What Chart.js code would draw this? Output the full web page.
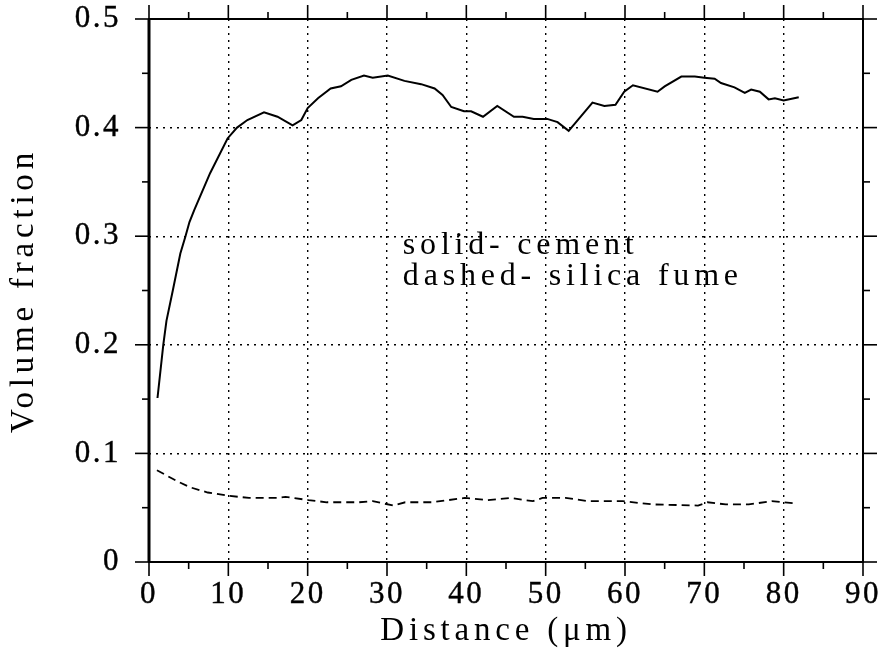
<!DOCTYPE html>
<html>
<head>
<meta charset="utf-8">
<script src="https://cdn.jsdelivr.net/npm/chart.js@4.4.1/dist/chart.umd.min.js"></script>
<style>
  html, body { margin: 0; padding: 0; background: #fff; }
  #wrap { width: 884px; height: 657px; }
</style>
</head>
<body>
<div id="wrap"><canvas id="c" width="884" height="657"></canvas></div>
<script>
// ---- data ----
const cementX = [1.07,1.8,2.2,3.0,3.95,4.6,5.1,5.7,7.7,9.9,11.1,12.4,14.5,16.2,18.1,19.2,20.0,21.3,22.9,24.2,25.5,27.1,28.2,30.1,32.2,34.3,36.0,37.0,38.1,39.7,40.6,42.1,43.9,46.0,47.1,48.5,50.2,51.5,52.9,55.9,57.4,58.8,59.9,61.0,64.1,65.0,67.1,68.8,70.0,71.3,72.1,73.8,75.1,75.9,77.0,78.1,78.9,80.0,81.9];
const cementY = [0.151,0.200,0.222,0.250,0.284,0.300,0.313,0.324,0.358,0.390,0.400,0.407,0.414,0.410,0.402,0.407,0.418,0.427,0.436,0.438,0.444,0.448,0.446,0.448,0.443,0.440,0.436,0.430,0.419,0.415,0.415,0.410,0.420,0.410,0.410,0.408,0.408,0.405,0.397,0.423,0.420,0.421,0.433,0.439,0.433,0.438,0.447,0.447,0.446,0.445,0.441,0.437,0.432,0.435,0.433,0.426,0.427,0.425,0.428];
const silicaX = [1.0,3.4,5.1,7.4,10.0,12.6,16.1,17.2,20.1,22.4,26.5,28.2,30.8,32.3,35.7,39.8,42.7,45.5,48.4,49.6,52.5,55.4,59.7,63.5,69.2,70.4,72.7,75.6,78.5,81.4];
const silicaY = [0.0845,0.075,0.069,0.064,0.061,0.059,0.059,0.060,0.057,0.055,0.055,0.056,0.052,0.055,0.055,0.059,0.057,0.059,0.056,0.059,0.059,0.056,0.056,0.053,0.052,0.055,0.053,0.053,0.056,0.054];
const xTickValues = [0,10,20,30,40,50,60,70,80,90];
const xTickLabels = ['0','10','20','30','40','50','60','70','80','90'];
const yTickValues = [0,0.1,0.2,0.3,0.4,0.5];
const yTickLabels = ['0','0.1','0.2','0.3','0.4','0.5'];
const noteLines = ['solid- cement', 'dashed- silica fume'];
const notePos = {x: 32.0, y: [0.284, 0.255]};
const xTitle = 'Distance (\u03bcm)';
const yTitle = 'Volume fraction';

const FONT = '"Liberation Serif", "DejaVu Serif", serif';
const TICK_SPACING = '2.5px';
const TITLE_SPACING = '4.8px';

function pts(xs, ys) { return xs.map((v, i) => ({x: v, y: ys[i]})); }

// letter spacing: tick labels use TICK_SPACING, titles use TITLE_SPACING
function withSpacing(scale) {
  if (scale._spacingWrapped) return;
  const origTitle = scale.drawTitle;
  scale.drawTitle = function () {
    const c = this.ctx, prev = c.letterSpacing;
    c.letterSpacing = TITLE_SPACING;
    origTitle.apply(this, arguments);
    c.letterSpacing = prev;
  };
  const origLabels = scale.drawLabels;
  scale.drawLabels = function () {
    const c = this.ctx, prev = c.letterSpacing;
    c.letterSpacing = TICK_SPACING;
    origLabels.apply(this, arguments);
    c.letterSpacing = prev;
  };
  scale._spacingWrapped = true;
}

const spacingPlugin = {
  id: 'spacing',
  beforeInit(chart) { chart.ctx.letterSpacing = TICK_SPACING; },
  beforeUpdate(chart) { chart.ctx.letterSpacing = TICK_SPACING; },
  beforeLayout(chart) { chart.ctx.letterSpacing = TICK_SPACING; },
  beforeDraw(chart) { chart.ctx.letterSpacing = TICK_SPACING; }
};

const framePlugin = {
  id: 'frame',
  afterDraw(chart) {
    const {ctx, chartArea: a, scales: {x, y}} = chart;
    ctx.save();
    ctx.strokeStyle = '#000';
    ctx.lineCap = 'butt';
    const seg = (x1, y1, x2, y2) => { ctx.beginPath(); ctx.moveTo(x1, y1); ctx.lineTo(x2, y2); ctx.stroke(); };
    ctx.lineWidth = 2;
    seg(a.left - 1, a.top, a.right + 1, a.top);
    seg(a.left - 1, a.bottom, a.right + 1, a.bottom);
    seg(a.right, a.top, a.right, a.bottom);
    ctx.lineWidth = 3;
    seg(a.left, a.top, a.left, a.bottom);
    ctx.lineWidth = 1.6;
    const MAJ = 14, MIN = 7;
    xTickValues.forEach((v, i) => {
      const p = x.getPixelForValue(v);
      seg(p, a.bottom, p, a.bottom + MAJ);
      seg(p, a.top, p, a.top - MAJ);
      if (i < xTickValues.length - 1) {
        const q = x.getPixelForValue((v + xTickValues[i + 1]) / 2);
        seg(q, a.bottom, q, a.bottom + MIN);
        seg(q, a.top, q, a.top - MIN);
      }
    });
    yTickValues.forEach((v, i) => {
      const p = y.getPixelForValue(v);
      seg(a.left, p, a.left - MAJ, p);
      seg(a.right, p, a.right + MAJ, p);
      if (i < yTickValues.length - 1) {
        const q = y.getPixelForValue((v + yTickValues[i + 1]) / 2);
        seg(a.left, q, a.left - MIN, q);
        seg(a.right, q, a.right + MIN, q);
      }
    });
    ctx.restore();
  }
};

const notePlugin = {
  id: 'note',
  afterDatasetsDraw(chart) {
    const {ctx, scales: {x, y}} = chart;
    ctx.save();
    ctx.letterSpacing = '4.8px';
    ctx.fillStyle = '#000';
    ctx.font = '32px ' + FONT;
    ctx.textAlign = 'left';
    ctx.textBaseline = 'alphabetic';
    noteLines.forEach((t, i) => {
      ctx.fillText(t, x.getPixelForValue(notePos.x), y.getPixelForValue(notePos.y[i]));
    });
    ctx.restore();
  }
};

new Chart(document.getElementById('c'), {
  type: 'line',
  data: {
    datasets: [
      {
        label: 'cement',
        data: pts(cementX, cementY),
        borderColor: '#000',
        borderWidth: 2,
        pointRadius: 0,
        tension: 0,
        fill: false
      },
      {
        label: 'silica fume',
        data: pts(silicaX, silicaY),
        borderColor: '#000',
        borderWidth: 1.8,
        borderDash: [8, 5],
        pointRadius: 0,
        tension: 0,
        fill: false
      }
    ]
  },
  options: {
    responsive: false,
    animation: false,
    layout: { padding: { left: 0, right: 21, top: 19, bottom: 0 } },
    plugins: { legend: { display: false }, tooltip: { enabled: false } },
    scales: {
      x: {
        type: 'linear',
        min: 0, max: 90,
        afterBuildTicks: s => { s.ticks = xTickValues.map(v => ({value: v})); },
        afterFit: s => { s.height = 95; s.paddingLeft = 0; s.paddingRight = 0; withSpacing(s); },
        border: { display: false, dash: [2, 5] },
        grid: {
          color: '#000',
          lineWidth: 1.4,
          drawTicks: false
        },
        ticks: {
          color: '#000',
          padding: 14,
          maxRotation: 0,
          autoSkip: false,
          font: { family: FONT, size: 31 },
          textStrokeColor: '#000',
          textStrokeWidth: 0.4,
          callback: (v, i) => xTickLabels[i]
        },
        title: {
          display: true,
          text: xTitle,
          color: '#000',
          font: { family: FONT, size: 33 },
          padding: { top: 0, bottom: 6 }
        }
      },
      y: {
        type: 'linear',
        min: 0, max: 0.5,
        afterBuildTicks: s => { s.ticks = yTickValues.map(v => ({value: v})); },
        afterFit: s => { s.width = 149; s.paddingTop = 0; s.paddingBottom = 0; withSpacing(s); },
        border: { display: false, dash: [2, 5] },
        grid: {
          color: '#000',
          lineWidth: 1.4,
          drawTicks: false
        },
        ticks: {
          color: '#000',
          padding: 28,
          autoSkip: false,
          font: { family: FONT, size: 31 },
          textStrokeColor: '#000',
          textStrokeWidth: 0.4,
          callback: (v, i) => yTickLabels[i]
        },
        title: {
          display: true,
          text: yTitle,
          color: '#000',
          font: { family: FONT, size: 33 },
          padding: { top: 5, bottom: 0 }
        }
      }
    }
  },
  plugins: [spacingPlugin, framePlugin, notePlugin]
});
</script>
</body>
</html>
